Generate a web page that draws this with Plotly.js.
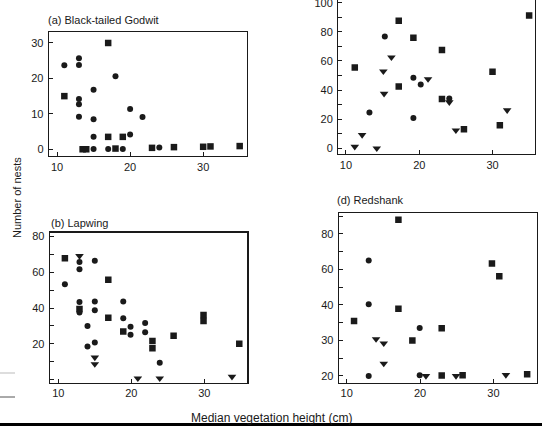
<!DOCTYPE html>
<html>
<head>
<meta charset="utf-8">
<script src="https://cdn.plot.ly/plotly-3.0.1.min.js"></script>
<style>html,body{margin:0;padding:0;background:#fff;}#chart{width:542px;height:426px;}</style>
</head>
<body>
<div id="chart"></div>
<script>
// ---------- Data ----------
// (a) Black-tailed Godwit
const aSqX = [11, 17, 17, 19, 18, 13.5, 14, 23, 26, 30, 31, 35];
const aSqY = [15, 30, 3.5, 3.5, 0.2, 0, 0, 0.4, 0.6, 0.7, 0.8, 0.9];
const aCiX = [11, 13, 13, 13, 13, 13, 15, 15, 15, 15, 17, 18, 19, 20, 20, 21.7, 24];
const aCiY = [23.7, 25.7, 23.8, 14.2, 12.7, 9.2, 16.8, 8.5, 3.5, 0.1, 0.1, 20.6, 0.1, 11.4, 4.2, 9.1, 0.5];
// (b) Lapwing
const bSqX = [10.9, 12.9, 16.85, 16.85, 18.9, 22.9, 22.9, 25.8, 29.9, 29.9, 34.8];
const bSqY = [67.9, 39.5, 55.9, 34.6, 26.9, 21.5, 17.4, 24.5, 36.1, 32.7, 20];
const bCiX = [10.9, 12.9, 12.9, 12.9, 12.9, 14, 14, 15, 15, 15, 15, 18.9, 18.9, 19.9, 19.9, 21.9, 21.9, 23.9];
const bCiY = [53.3, 65.8, 61.7, 43.4, 37.5, 29.9, 18.5, 66.5, 43.6, 38.7, 20.7, 43.7, 34.2, 29.5, 25, 31.6, 26.4, 9.3];
const bTrX = [12.9, 15, 15, 20.9, 23.9, 33.8];
const bTrY = [69.2, 12.3, 8.6, 0.6, 0.6, 1.5];
// (c) (title cut off)
const cSqX = [11.2, 17.2, 17.2, 19.2, 23.1, 23.1, 26.1, 30, 31, 35];
const cSqY = [55.6, 87.6, 42.5, 75.9, 67.6, 33.8, 13.1, 52.6, 15.9, 91.3];
const cCiX = [13.2, 15.3, 19.2, 19.2, 20.2, 24.1];
const cCiY = [24.6, 76.8, 48.5, 20.9, 43.9, 34.3];
const cTrX = [11.2, 12.2, 14.2, 15.1, 15.2, 16.2, 21.2, 24.1, 25, 32];
const cTrY = [1.1, 9.2, 0, 52.9, 37.5, 62.5, 47.6, 31.7, 12.4, 26.2];
// (d) Redshank (y axis labelled unevenly: 20, 30, 40, 60, 80)
const dSqX = [11, 17.05, 17.05, 18.95, 22.95, 22.95, 25.8, 29.8, 30.8, 34.6];
const dSqY = [35.5, 88, 38.9, 30, 33.4, 20.1, 20.2, 63.3, 56.2, 20.5];
const dCiX = [13, 13, 13, 19.95, 19.95];
const dCiY = [65, 40.4, 20, 33.5, 20.2];
const dTrX = [14, 15.05, 15.05, 20.8, 24.9, 31.7];
const dTrY = [30.4, 29.2, 23.5, 20, 20, 20.3];
const dTickLabels = [20, 30, 40, 60, 80];

const xTicks = [10, 20, 30];

// ---------- helpers ----------
// map a value of panel (d) onto its evenly spaced labelled scale
function dScale(v) {
  const L = dTickLabels;
  if (v <= L[0]) return (v - L[0]) / (L[1] - L[0]);
  for (let i = 0; i < L.length - 1; i++) {
    if (v <= L[i + 1]) return i + (v - L[i]) / (L[i + 1] - L[i]);
  }
  const n = L.length - 1;
  return n + (v - L[n]) / (L[n] - L[n - 1]);
}

const W = 542, H = 426;
const px = v => v / W;
const py = v => (H - v) / H;
const ink = '#1a1a1a';
const FONT = 'Liberation Sans, Arial, Helvetica, sans-serif';

function trace(x, y, sym, xa, ya, size) {
  return {
    x: x, y: y, type: 'scatter', mode: 'markers', xaxis: xa, yaxis: ya,
    marker: {symbol: sym, size: size, color: ink, line: {width: 0}},
    showlegend: false, hoverinfo: 'skip'
  };
}
const SQ = 6.5, CI = 6, TR = 7.5;

const data = [
  trace(aSqX, aSqY, 'square', 'x', 'y', SQ),
  trace(aCiX, aCiY, 'circle', 'x', 'y', CI),
  trace(cSqX, cSqY, 'square', 'x2', 'y2', SQ),
  trace(cCiX, cCiY, 'circle', 'x2', 'y2', CI),
  trace(cTrX, cTrY, 'triangle-down', 'x2', 'y2', TR),
  trace(bSqX, bSqY, 'square', 'x3', 'y3', SQ),
  trace(bCiX, bCiY, 'circle', 'x3', 'y3', CI),
  trace(bTrX, bTrY, 'triangle-down', 'x3', 'y3', TR),
  trace(dSqX, dSqY.map(dScale), 'square', 'x4', 'y4', SQ),
  trace(dCiX, dCiY.map(dScale), 'circle', 'x4', 'y4', CI),
  trace(dTrX, dTrY.map(dScale), 'triangle-down', 'x4', 'y4', TR)
];

function xAxis(dom, range, anchor, mirror) {
  return {
    domain: dom, range: range, anchor: anchor,
    tickvals: xTicks, ticks: 'inside', ticklen: 4, tickwidth: 1, tickcolor: ink,
    showline: true, linecolor: ink, linewidth: 1.3, mirror: mirror,
    showgrid: false, zeroline: false,
    tickfont: {family: FONT, size: 11, color: ink}
  };
}
function yAxis(dom, range, anchor, extra) {
  return Object.assign({
    domain: dom, range: range, anchor: anchor,
    ticks: 'inside', ticklen: 4, tickwidth: 1, tickcolor: ink,
    showline: true, linecolor: ink, linewidth: 1.3, mirror: true,
    showgrid: false, zeroline: false, ticklabelstandoff: 2,
    ticklabeloverflow: 'allow',
    tickfont: {family: FONT, size: 11, color: ink}
  }, extra);
}

const layout = {
  width: W, height: H,
  margin: {l: 0, r: 0, t: 0, b: 0},
  paper_bgcolor: '#fff', plot_bgcolor: '#fff',
  showlegend: false,
  // (a)
  xaxis: xAxis([px(49), px(247)], [8.9, 36.0], 'y', true),
  yaxis: yAxis([py(156), py(32)], [-1.9, 33.1], 'x', {tickvals: [0, 10, 20, 30]}),
  // (c)
  xaxis2: xAxis([px(338.3), px(535)], [8.95, 35.8], 'y2', false),
  yaxis2: yAxis([py(154), 1], [-3.9, 101.9], 'x2', {
    tickvals: [0, 20, 40, 60, 80, 100],
    minor: {dtick: 10, tick0: 0, ticks: 'inside', ticklen: 4, tickcolor: ink}
  }),
  // (b)
  xaxis3: xAxis([px(50), px(247.3)], [8.86, 35.9], 'y3', true),
  yaxis3: yAxis([py(382.7), py(232.7)], [-1.85, 82.2], 'x3', {
    tickvals: [20, 40, 60, 80],
    minor: {dtick: 10, tick0: 0, ticks: 'inside', ticklen: 4, tickcolor: ink}
  }),
  // (d)
  xaxis4: xAxis([px(339), px(536.7)], [8.95, 35.9], 'y4', true),
  yaxis4: yAxis([py(382.7), py(213.3)], [-0.19, 4.58], 'x4', {
    tickvals: dTickLabels.map((v, i) => i),
    ticktext: dTickLabels.map(String),
    minor: {dtick: 0.5, tick0: 0, ticks: 'inside', ticklen: 4, tickcolor: ink}
  }),
  annotations: [
    {text: '(a) Black-tailed Godwit', xref: 'paper', yref: 'paper', x: px(46), y: py(20),
     xanchor: 'left', yanchor: 'middle', showarrow: false, font: {family: FONT, size: 11, color: ink}},
    {text: '(b) Lapwing', xref: 'paper', yref: 'paper', x: px(49), y: py(223),
     xanchor: 'left', yanchor: 'middle', showarrow: false, font: {family: FONT, size: 11, color: ink}},
    {text: '(d) Redshank', xref: 'paper', yref: 'paper', x: px(335), y: py(200),
     xanchor: 'left', yanchor: 'middle', showarrow: false, font: {family: FONT, size: 11, color: ink}},
    {text: 'Number of nests', xref: 'paper', yref: 'paper', x: px(17), y: py(198),
     xanchor: 'center', yanchor: 'middle', textangle: -90, showarrow: false,
     font: {family: FONT, size: 11, color: ink}},
    {text: 'Median vegetation height (cm)', xref: 'paper', yref: 'paper', x: px(271), y: py(418),
     xanchor: 'center', yanchor: 'middle', showarrow: false,
     font: {family: FONT, size: 12, color: ink}}
  ],
  shapes: [
    {type: 'rect', xref: 'paper', yref: 'paper', x0: 0, x1: 1, y0: 0, y1: py(423),
     fillcolor: '#000', line: {width: 0}, layer: 'above'},
    {type: 'line', xref: 'paper', yref: 'paper', x0: 0, x1: px(15), y0: py(373), y1: py(373),
     line: {color: '#bbb', width: 1}},
    {type: 'line', xref: 'paper', yref: 'paper', x0: 0, x1: px(15), y0: py(397), y1: py(397),
     line: {color: '#555', width: 1}}
  ]
};

Plotly.newPlot('chart', data, layout, {staticPlot: true, displayModeBar: false});
</script>
</body>
</html>
